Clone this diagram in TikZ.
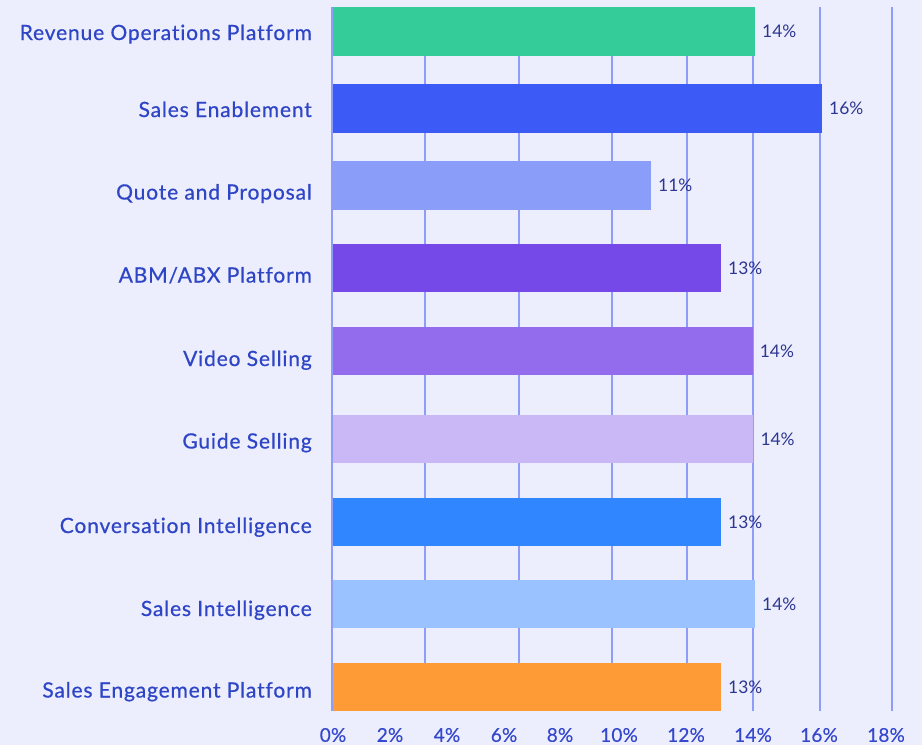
\documentclass[tikz,border=0pt]{standalone}
\usepackage{fontspec}
\setmainfont{Lato}[Ligatures={NoCommon}]
\newfontfamily\labfont[LetterSpace=4, FakeBold=0.6, Ligatures={NoCommon}]{Lato}
\newfontfamily\axfont[LetterSpace=1, FakeBold=0.3]{Lato}
\definecolor{bgc}{HTML}{ECEEFD}
\definecolor{gridc}{HTML}{8D9DF8}
\definecolor{labc}{HTML}{2E45C6}
\definecolor{valc}{HTML}{2C3590}
\definecolor{axc}{HTML}{3548CC}
\definecolor{cA}{HTML}{34CC98}
\definecolor{cB}{HTML}{3C5AF5}
\definecolor{cC}{HTML}{8A9DF9}
\definecolor{cD}{HTML}{7449E8}
\definecolor{cE}{HTML}{936CEE}
\definecolor{cF}{HTML}{CAB8F6}
\definecolor{cG}{HTML}{2F86FF}
\definecolor{cH}{HTML}{99C2FF}
\definecolor{cI}{HTML}{FF9B36}
\tikzset{
  catlabel/.style={anchor=east, inner sep=0pt, text height=15pt, text depth=0pt, text=labc, font=\labfont\fontsize{21}{24}\selectfont},
  vallabel/.style={anchor=west, inner sep=0pt, text height=12.3pt, text depth=0pt, text=valc, font=\fontsize{17.4}{20}\selectfont},
  axlabel/.style={anchor=center, inner sep=0pt, text height=13.6pt, text depth=0pt, text=axc, font=\axfont\fontsize{19}{22}\selectfont},
  gridline/.style={draw=gridc, line width=2.2pt},
}
\begin{document}
\begin{tikzpicture}[x=1pt,y=-1pt]
\fill[bgc] (0,0) rectangle (922,745);
\useasboundingbox (0,0) rectangle (922,745);
% grid lines
\foreach \gx in {425,519,612,687,753,820,892}{
  \draw[gridline] (\gx,7) -- (\gx,711);
}
\draw[gridline] (331.6,7) -- (331.6,711);
% bars: top bottom right color
\foreach \t/\b/\r/\c [count=\i] in {
  7/55.7/755/cA, 84/132.7/822/cB, 161/210/651/cC, 244/291.7/721/cD,
  326.7/375/752.7/cE, 415/462.7/753.3/cF, 498.3/545.7/721/cG,
  580/627.7/755/cH, 663.3/710.7/721/cI}{
  \fill[\c] (333,\t) rectangle (\r,\b);
  \coordinate (end\i) at (\r+7,{(\t+\b)/2});
}
% value labels
\node[vallabel] (v1) at (end1) {14\%};
\node[vallabel] (v2) at (end2) {16\%};
\node[vallabel] (v3) at (end3) {11\%};
\node[vallabel] (v4) at (end4) {13\%};
\node[vallabel] (v5) at (end5) {14\%};
\node[vallabel] (v6) at (end6) {14\%};
\node[vallabel] (v7) at (end7) {13\%};
\node[vallabel] (v8) at (end8) {14\%};
\node[vallabel] (v9) at (end9) {13\%};
% category labels
\node[catlabel] (l1) at (312,32.5) {Revenue Operations Platform};
\node[catlabel] (l2) at (312,109.5) {Sales Enablement};
\node[catlabel] (l3) at (312,192) {Quote and Proposal};
\node[catlabel] (l4) at (312,275) {ABM/ABX Platform};
\node[catlabel] (l5) at (312,358.5) {Video Selling};
\node[catlabel] (l6) at (312,441) {Guide Selling};
\node[catlabel] (l7) at (312,525.5) {Conversation Intelligence};
\node[catlabel] (l8) at (312,608.5) {Sales Intelligence};
\node[catlabel] (l9) at (312,690) {Sales Engagement Platform};
% axis labels
\foreach \ax/\txt [count=\j] in {333/0, 390/2, 447/4, 504/6, 560/8, 619/10, 686/12, 753/14, 819/16, 886/18}{
  \node[axlabel] (a\j) at (\ax,735) {\txt\%};
}
\end{tikzpicture}
\end{document}
